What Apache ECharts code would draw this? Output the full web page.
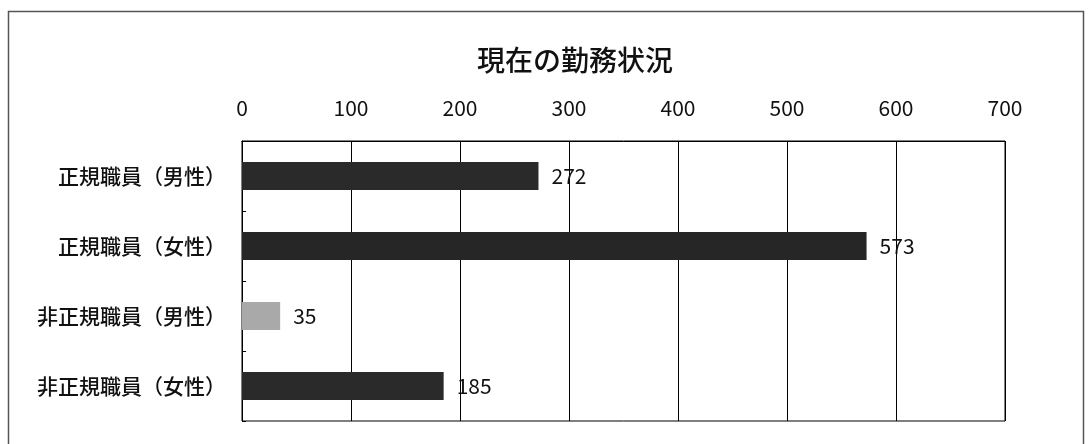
<!DOCTYPE html>
<html>
<head>
<meta charset="utf-8">
<script src="https://cdn.jsdelivr.net/npm/echarts@6/dist/echarts.min.js"></script>
<style>
  html, body { margin: 0; padding: 0; background: #fff; }
  #chart { width: 1088px; height: 444px; }
</style>
</head>
<body>
<div id="chart"></div>
<script>
// 現在の勤務状況
var categories = ['正規職員（男性）', '正規職員（女性）', '非正規職員（男性）', '非正規職員（女性）'];
var counts = [272, 573, 35, 185];
var barColors = ['#2a2a2a', '#262626', '#a9a9a9', '#2a2a2a'];

var chart = echarts.init(document.getElementById('chart'));

var font = '"Noto Sans CJK JP", "Noto Sans", sans-serif';

var option = {
    animation: false,
    backgroundColor: '#fff',
    title: {
        text: '現在の勤務状況',
        left: 570,
        top: 41,
        textAlign: 'center',
        textStyle: { fontFamily: font, fontSize: 28, fontWeight: 500, color: '#111' }
    },
    graphic: [{
        type: 'rect',
        shape: { x: 8.5, y: 11.5, width: 1075, height: 445 },
        style: { fill: 'none', stroke: '#555', lineWidth: 1.5 },
        silent: true
    }],
    grid: {
        left: 242, right: 83, top: 141, bottom: 23,
        show: true, borderColor: '#000', borderWidth: 1
    },
    xAxis: {
        type: 'value',
        position: 'top',
        min: 0, max: 700, interval: 100,
        axisLine: { show: true, lineStyle: { color: '#000' } },
        axisTick: { show: false },
        splitLine: { show: true, lineStyle: { color: '#000', width: 1 } },
        axisLabel: { margin: 22, fontFamily: font, fontSize: 21, color: '#111' }
    },
    yAxis: {
        type: 'category',
        data: categories,
        inverse: true,
        axisLine: { show: true, lineStyle: { color: '#000' } },
        axisTick: { show: true, inside: true, length: 4, lineStyle: { color: '#000' } },
        axisLabel: { margin: 16, fontFamily: font, fontSize: 21, fontWeight: 500, color: '#111' }
    },
    series: [{
        type: 'bar',
        barWidth: 28,
        data: counts.map(function (v, i) {
            return { value: v, itemStyle: { color: barColors[i] } };
        }),
        label: {
            show: true,
            position: 'right',
            distance: 13,
            fontFamily: font,
            fontSize: 21,
            color: '#111'
        }
    }]
};

chart.setOption(option);
</script>
</body>
</html>
